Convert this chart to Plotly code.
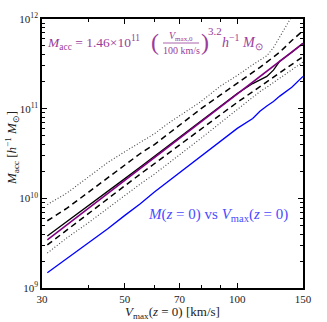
import plotly.graph_objects as go

# Vmax(z=0) grid [km/s] and log10 of the mass curves
vmax = [31, 35, 40, 45, 50, 55, 60, 65, 70, 80, 90, 100, 110, 115, 120, 125, 130, 140, 150]

fit_log = [9.537, 9.705, 9.891, 10.055, 10.201, 10.334, 10.455, 10.566, 10.669, 10.854,
           11.018, 11.164, 11.297, 11.359, 11.418, 11.474, 11.529, 11.632, 11.728]
median_log = [9.58, 9.74, 9.92, 10.08, 10.22, 10.35, 10.47, 10.58, 10.68, 10.86,
              11.02, 11.17, 11.28, 11.32, 11.36, 11.43, 11.53, 11.63, 11.73]
hi68_log = [9.75, 9.89, 10.07, 10.23, 10.38, 10.50, 10.60, 10.71, 10.82, 11.00,
            11.15, 11.28, 11.40, 11.46, 11.52, 11.58, 11.63, 11.76, 11.87]
lo68_log = [9.48, 9.65, 9.83, 9.995, 10.14, 10.27, 10.385, 10.49, 10.59, 10.77,
            10.93, 11.07, 11.19, 11.25, 11.30, 11.35, 11.40, 11.49, 11.58]
hi95_log = [9.93, 10.06, 10.24, 10.40, 10.52, 10.62, 10.72, 10.83, 10.92, 11.08,
            11.25, 11.37, 11.49, 11.54, 11.59, 11.68, 11.80, 12.03, 12.2]
lo95_log = [9.39, 9.56, 9.73, 9.89, 10.03, 10.16, 10.27, 10.38, 10.48, 10.67,
            10.84, 10.99, 11.13, 11.19, 11.24, 11.29, 11.34, 11.43, 11.52]
mz0_log = [9.17, 9.33, 9.51, 9.66, 9.81, 9.94, 10.07, 10.18, 10.29, 10.47,
           10.63, 10.78, 10.89, 10.97, 11.03, 11.08, 11.14, 11.24, 11.36]

x_major = [30, 50, 70, 100, 150]
x_minor = [40, 60, 80, 90]
y_major = [1e9, 1e10, 1e11, 1e12]
y_labels = ["10<sup>9</sup>", "10<sup>10</sup>", "10<sup>11</sup>", "10<sup>12</sup>"]
y_minor = [m * 10 ** e for e in (9, 10, 11) for m in range(2, 10)]

FONT = "Liberation Serif"
PURPLE_TXT = "#9a3c9a"
BLUE_TXT = "#4a4aff"


def lin(vals):
    return [10 ** v for v in vals]


fig = go.Figure()
fig.add_trace(go.Scatter(x=vmax, y=lin(hi95_log), mode="lines", line=dict(color="#444", width=1.1, dash="1px,2px")))
fig.add_trace(go.Scatter(x=vmax, y=lin(lo95_log), mode="lines", line=dict(color="#444", width=1.1, dash="1px,2px")))
fig.add_trace(go.Scatter(x=vmax, y=lin(hi68_log), mode="lines", line=dict(color="black", width=1.5, dash="6px,4px")))
fig.add_trace(go.Scatter(x=vmax, y=lin(lo68_log), mode="lines", line=dict(color="black", width=1.5, dash="6px,4px")))
fig.add_trace(go.Scatter(x=vmax, y=lin(median_log), mode="lines", line=dict(color="black", width=1.3)))
fig.add_trace(go.Scatter(x=vmax, y=lin(fit_log), mode="lines", line=dict(color="#800080", width=1.6)))
fig.add_trace(go.Scatter(x=vmax, y=lin(mz0_log), mode="lines", line=dict(color="#0000ff", width=1.3)))

axis_common = dict(type="log", showgrid=False, zeroline=False, showline=True, linecolor="black",
                   linewidth=1.5, mirror="ticks", ticks="inside", ticklen=5, tickwidth=1,
                   tickcolor="black", automargin=False,
                   tickfont=dict(family=FONT, size=11, color="#222"))
fig.update_xaxes(**axis_common, range=[1.4771, 2.1761], tickvals=x_major,
                 ticktext=[str(v) for v in x_major],
                 minor=dict(tickvals=x_minor, ticks="inside", ticklen=3, tickcolor="black"))
fig.update_yaxes(**axis_common, range=[9, 12], tickvals=y_major, ticktext=y_labels,
                 minor=dict(tickvals=y_minor, ticks="inside", ticklen=3, tickcolor="black"))

W, H = 327, 322
L, R, T, B = 42, 24, 19, 34
pw, ph = W - L - R, H - T - B


def px(x, y):
    return (x - L) / pw, (H - B - y) / ph


def note(text, x, y, size, color, anchor="left", angle=0):
    xp, yp = px(x, y)
    fig.add_annotation(text=text, x=xp, y=yp, xref="paper", yref="paper", showarrow=False,
                       xanchor=anchor, yanchor="middle", textangle=angle, borderpad=0,
                       font=dict(family=FONT, size=size, color=color))


# axis titles
note("<i>V</i><sub>max</sub>(<i>z</i> = 0) [km/s]", 172, 312, 13, "#222", "center")
note("<i>M</i><sub>acc</sub> [<i>h</i><sup>−1</sup> <i>M</i><sub>⊙</sub>]", 12, 148, 13, "#222", "center", -90)

# fit formula
note("<i>M</i><sub>acc</sub> = 1.46×10<sup>11</sup>", 46, 42, 13.5, PURPLE_TXT)
note("(", 160, 42, 24, PURPLE_TXT, "right")
note("<i>V</i><sub>max,0</sub>", 181, 36, 10, PURPLE_TXT, "center")
note("100 km/s", 181, 50, 10, PURPLE_TXT, "center")
note(")", 200, 42, 24, PURPLE_TXT)
note("3.2", 207, 31, 11, PURPLE_TXT)
note("<i>h</i><sup>−1</sup> <i>M</i><sub>⊙</sub>", 221, 42, 14, PURPLE_TXT)
x0, y0 = px(163, 43)
x1, _ = px(199, 43)
fig.add_shape(type="line", xref="paper", yref="paper", x0=x0, x1=x1, y0=y0, y1=y0,
              line=dict(color=PURPLE_TXT, width=0.8))
note("<i>M</i>(<i>z</i> = 0) vs <i>V</i><sub>max</sub>(<i>z</i> = 0)", 289, 215, 15, BLUE_TXT, "right")

fig.update_layout(width=W, height=H, margin=dict(l=L, r=R, t=T, b=B, autoexpand=False),
                  showlegend=False, plot_bgcolor="white", paper_bgcolor="white")
# the page body has a default 8px margin; drop it so the figure sits at the window origin
fig.write_html("out.html", config={"displayModeBar": False},
               post_script="document.body.style.margin='0';")
